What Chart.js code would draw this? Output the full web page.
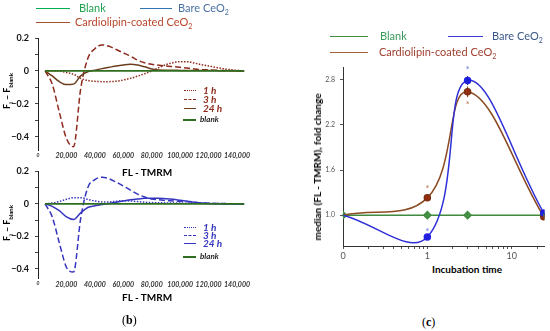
<!DOCTYPE html>
<html>
<head>
<meta charset="utf-8">
<script src="https://cdn.jsdelivr.net/npm/chart.js@4/dist/chart.umd.min.js"></script>
<style>
  body { margin: 0; background: #fff; }
  #page { position: relative; width: 550px; height: 331px; overflow: hidden; font-family: Lato, sans-serif; }
  canvas { position: absolute; }
  .t { position: absolute; white-space: nowrap; line-height: 1; }
  .ln { position: absolute; height: 0; }
  .rot { position: absolute; white-space: nowrap; transform: translate(-50%, -50%) rotate(-90deg); font-weight: bold; line-height: 1; }
</style>
</head>
<body>
<div id="page">
  <canvas id="topB" width="260" height="165" style="left:0px;top:0px"></canvas>
  <canvas id="botB" width="260" height="130" style="left:0px;top:160px"></canvas>
  <canvas id="panelC" width="280" height="262" style="left:270px;top:0px"></canvas>

  <!-- legend, panel b -->
  <div class="ln" style="left:36px;top:8px;width:34px;border-top:1.5px solid #00b050"></div>
  <div class="t" style="left:79px;top:2px;font-size:11px;color:#21a150">Blank</div>
  <div class="ln" style="left:140px;top:8px;width:32px;border-top:1.5px solid #2e75b6"></div>
  <div class="t" style="left:178px;top:2px;font-size:11px;color:#4a6fa5">Bare CeO<sub style="font-size:7px">2</sub></div>
  <div class="ln" style="left:36px;top:22px;width:34px;border-top:1.5px solid #a0522d"></div>
  <div class="t" style="left:75px;top:16px;font-size:11px;color:#b8452a">Cardiolipin-coated CeO<sub style="font-size:7px">2</sub></div>

  <!-- legend, panel c -->
  <div class="ln" style="left:330px;top:36px;width:38px;border-top:1.5px solid #3f8a3f"></div>
  <div class="t" style="left:380px;top:30px;font-size:11px;color:#3a9a5a">Blank</div>
  <div class="ln" style="left:448px;top:36px;width:35px;border-top:1.5px solid #3a3ad0"></div>
  <div class="t" style="left:492px;top:30px;font-size:11px;color:#3a5a8a">Bare CeO<sub style="font-size:7px">2</sub></div>
  <div class="ln" style="left:330px;top:52px;width:38px;border-top:1.5px solid #a0603a"></div>
  <div class="t" style="left:379px;top:46px;font-size:11px;color:#a04030">Cardiolipin-coated CeO<sub style="font-size:7px">2</sub></div>

  <!-- in-plot legends, panel b -->
  <div class="ln" style="left:184px;top:90px;width:12px;border-top:1.5px dotted #8e2b1c"></div>
  <div class="t" style="left:203px;top:85px;font-size:10px;font-weight:bold;font-style:italic;color:#8e2b1c">1 h</div>
  <div class="ln" style="left:184px;top:99px;width:12px;border-top:1.5px dashed #8e2b1c"></div>
  <div class="t" style="left:203px;top:94px;font-size:10px;font-weight:bold;font-style:italic;color:#8e2b1c">3 h</div>
  <div class="ln" style="left:184px;top:108px;width:12px;border-top:1.5px solid #6b3e1f"></div>
  <div class="t" style="left:203px;top:103px;font-size:10px;font-weight:bold;font-style:italic;color:#8e2b1c">24 h</div>
  <div class="ln" style="left:183px;top:119px;width:13px;border-top:2px solid #2f6e1f"></div>
  <div class="t" style="left:200px;top:115px;font-size:8px;font-weight:bold;font-style:italic;color:#222">blank</div>

  <div class="ln" style="left:184px;top:227px;width:12px;border-top:1.5px dotted #3535c0"></div>
  <div class="t" style="left:203px;top:222px;font-size:10px;font-weight:bold;font-style:italic;color:#3535c0">1 h</div>
  <div class="ln" style="left:184px;top:235px;width:12px;border-top:1.5px dashed #3535c0"></div>
  <div class="t" style="left:203px;top:230px;font-size:10px;font-weight:bold;font-style:italic;color:#3535c0">3 h</div>
  <div class="ln" style="left:184px;top:243px;width:12px;border-top:1.5px solid #3535c0"></div>
  <div class="t" style="left:203px;top:238px;font-size:10px;font-weight:bold;font-style:italic;color:#3535c0">24 h</div>
  <div class="ln" style="left:183px;top:256px;width:13px;border-top:2px solid #2f6e1f"></div>
  <div class="t" style="left:200px;top:252px;font-size:8px;font-weight:bold;font-style:italic;color:#222">blank</div>

  <!-- axis titles -->
  <div class="rot" style="left:8px;top:91px;font-size:9px">F<sub style="font-size:6px">i</sub> – F<sub style="font-size:6px">blank</sub></div>
  <div class="rot" style="left:8px;top:223px;font-size:9px">F<sub style="font-size:6px">i</sub> – F<sub style="font-size:6px">blank</sub></div>
  <div class="t" style="left:122px;top:167px;font-size:10px;font-weight:bold">FL - TMRM</div>
  <div class="t" style="left:122px;top:292px;font-size:10px;font-weight:bold">FL - TMRM</div>
  <div class="rot" style="left:317px;top:167px;font-size:10px">median (FL - TMRM), fold change</div>
  <div class="t" style="left:432px;top:264px;font-size:10px;font-weight:bold">Incubation time</div>

  <div class="t" style="left:122px;top:314px;font-size:12px;font-family:'Liberation Serif',serif">(<b>b</b>)</div>
  <div class="t" style="left:422px;top:316px;font-size:12px;font-family:'Liberation Serif',serif">(<b>c</b>)</div>
</div>

<script>
// panel (b): FL - TMRM grid and difference curves
const flGrid = [5000, 10000, 15000, 20000, 25000, 30000, 35000, 40000, 45000, 50000, 55000, 60000, 65000, 70000, 75000,
  80000, 85000, 90000, 95000, 100000, 105000, 110000, 115000, 120000, 125000, 130000, 135000, 140000, 145000];

const cardio1h = [0, 0, 0, -0.01, -0.02, -0.045, -0.058, -0.063, -0.065, -0.065, -0.062, -0.055, -0.045, -0.032, -0.017,
  0, 0.02, 0.038, 0.05, 0.056, 0.056, 0.048, 0.038, 0.03, 0.022, 0.014, 0.008, 0.003, 0];
const cardio3h = [0, -0.08, -0.25, -0.41, -0.46, -0.11, 0.075, 0.135, 0.158, 0.15, 0.13, 0.11, 0.09, 0.065, 0.05,
  0.04, 0.035, 0.03, 0.026, 0.022, 0.018, 0.012, 0.008, 0.006, 0.004, 0.003, 0.002, 0.001, 0];
const cardio24h = [0, -0.03, -0.065, -0.083, -0.08, -0.03, -0.005, 0.005, 0.014, 0.022, 0.03, 0.036, 0.04, 0.036, 0.025,
  0.012, 0.005, 0.004, 0.004, 0.003, 0.003, 0.003, 0.002, 0.002, 0.002, 0.001, 0.001, 0, 0];

const bare1h = [0, 0.005, 0.015, 0.028, 0.038, 0.038, 0.028, 0.018, 0.012, 0.012, 0.016, 0.02, 0.018, 0.014, 0.01,
  0.008, 0.007, 0.006, 0.005, 0.005, 0.004, 0.004, 0.003, 0.003, 0.002, 0.002, 0.001, 0.001, 0];
const bare3h = [0, -0.08, -0.24, -0.39, -0.42, -0.09, 0.1, 0.15, 0.164, 0.155, 0.134, 0.11, 0.085, 0.06, 0.042,
  0.03, 0.025, 0.02, 0.018, 0.016, 0.014, 0.01, 0.006, 0.004, 0.003, 0.002, 0.001, 0, 0];
const bare24h = [0, -0.015, -0.042, -0.08, -0.096, -0.055, -0.022, -0.012, -0.004, 0.003, 0.01, 0.018, 0.025, 0.03, 0.034,
  0.035, 0.034, 0.032, 0.028, 0.022, 0.016, 0.01, 0.005, 0.002, 0.001, 0, 0, 0, 0];
const blankDiff = flGrid.map(() => 0);

const flTicks = [0, 20000, 40000, 60000, 80000, 100000, 120000, 140000];
const diffTicks = [-0.4, -0.3, -0.2, -0.1, 0, 0.1, 0.2];
const diffLabels = [-0.4, -0.2, 0, 0.2];

// panel (c): median fold change vs incubation time (h)
const incubation = [0, 1, 3, 24];
const foldBlank = [1.0, 1.0, 1.0, 1.0];
const foldBare = [1.0, 0.71, 2.79, 1.03];
const foldCardio = [1.0, 1.23, 2.64, 0.98];
const errBare = [0, 0.02, 0.06, 0.02];
const errCardio = [0, 0.03, 0.07, 0.02];
const errBlank = [0.02, 0.03, 0.03, 0.02];
const starsBare = [[1, 0.8], [3, 2.95]];
const starsCardio = [[1, 1.37], [3, 2.49]];
const timeTicks = [0.1, 0.2, 0.3, 0.4, 0.5, 0.6, 0.7, 0.8, 0.9, 1, 2, 3, 4, 5, 6, 7, 8, 9, 10, 20];
const timeLabels = { 0.1: "0", 1: "1", 10: "10" };
const foldTicks = [1.0, 1.6, 2.2, 2.8];

const red = "#8e2b1c";
const brown24 = "#6b3e1f";
const blue = "#3535c0";
const green = "#2f6e1f";

function pts(ys) {
  return flGrid.map((x, i) => ({ x: x, y: ys[i] }));
}

function line(data, color, dash, width) {
  return {
    data: pts(data),
    borderColor: color,
    borderWidth: width || 1.5,
    borderDash: dash,
    pointRadius: 0,
    cubicInterpolationMode: "monotone",
    fill: false,
  };
}

function diffChart(id, sets, yMin, padTop, xHeight) {
  new Chart(document.getElementById(id), {
    type: "line",
    data: { datasets: sets },
    options: {
      responsive: false,
      animation: false,
      layout: { padding: { left: 0, top: padTop, right: 13, bottom: 0 } },
      plugins: { legend: { display: false }, tooltip: { enabled: false } },
      scales: {
        x: {
          type: "linear",
          min: 0,
          max: 147000,
          afterBuildTicks: (s) => { s.ticks = flTicks.map((v) => ({ value: v })); },
          afterFit: (s) => { s.height = xHeight; },
          grid: { display: false, drawTicks: false, tickLength: 0 },
          border: { display: false },
          ticks: {
            padding: 2,
            maxRotation: 0,
            color: "#333",
            font: (c) => ({ size: c.tick && c.tick.value === 0 ? 5 : 7, weight: "bold", style: "italic", family: "Lato" }),
            callback: (v) => v.toLocaleString("en-US"),
          },
        },
        y: {
          min: yMin,
          max: 0.2,
          afterBuildTicks: (s) => { s.ticks = diffTicks.map((v) => ({ value: v })); },
          afterFit: (s) => { s.width = 38; },
          grid: { drawOnChartArea: false, drawTicks: true, tickLength: 3, color: "#444" },
          border: { display: true, color: "#222", width: 1 },
          ticks: {
            padding: 6,
            color: "#111",
            font: { size: 9, weight: "bold", family: "Lato" },
            callback: (v) => {
              const r = Math.round(v * 10) / 10;
              if (!diffLabels.includes(r)) return "";
              return r === 0 ? "0" : (r < 0 ? "\u2212" + Math.abs(r) : String(r));
            },
          },
        },
      },
    },
  });
}

diffChart("topB", [
  line(blankDiff, green, [], 1.8),
  line(cardio24h, brown24, []),
  line(cardio1h, red, [1.5, 1.5]),
  line(cardio3h, red, [6, 3]),
], -0.48, 38, 15);

diffChart("botB", [
  line(blankDiff, green, [], 1.8),
  line(bare24h, blue, []),
  line(bare1h, blue, [1.5, 1.5]),
  line(bare3h, blue, [6, 3]),
], -0.46, 9, 11);

// panel (c)
const timeX = incubation.map((t) => (t === 0 ? 0.1 : t)); // "0" sits at the left end of the log axis

function series(ys) {
  return timeX.map((x, i) => ({ x: x, y: ys[i] }));
}

const marks = {
  id: "marks",
  afterDatasetsDraw(chart) {
    const { ctx } = chart;
    const x = chart.scales.x;
    const y = chart.scales.y;
    ctx.save();
    ctx.lineWidth = 1;
    [[foldBare, errBare, "#2020c0"], [foldCardio, errCardio, "#8a2a10"], [foldBlank, errBlank, "#3f8a3f"]].forEach(([vals, errs, c]) => {
      ctx.strokeStyle = c;
      vals.forEach((v, i) => {
        if (!errs[i]) return;
        const px = x.getPixelForValue(timeX[i]);
        ctx.beginPath();
        ctx.moveTo(px, y.getPixelForValue(v - errs[i]));
        ctx.lineTo(px, y.getPixelForValue(v + errs[i]));
        ctx.stroke();
      });
    });
    ctx.font = "bold 9px Lato";
    ctx.textAlign = "center";
    ctx.textBaseline = "middle";
    [[starsBare, "#7b8fe0"], [starsCardio, "#c08a6a"]].forEach(([list, c]) => {
      ctx.fillStyle = c;
      list.forEach(([t, v]) => {
        ctx.fillText("*", x.getPixelForValue(t), y.getPixelForValue(v) + 2);
      });
    });
    ctx.restore();
  },
};

new Chart(document.getElementById("panelC"), {
  type: "line",
  data: {
    datasets: [
      {
        data: series(foldBare),
        borderColor: "#3030d8",
        borderWidth: 1.5,
        tension: 0.4,
        capBezierPoints: false,
        pointRadius: [0, 3, 3, 3],
        pointBackgroundColor: "#2020e0",
        pointBorderColor: "#2020e0",
      },
      {
        data: series(foldCardio),
        borderColor: "#8b4a22",
        borderWidth: 1.5,
        tension: 0.4,
        capBezierPoints: false,
        pointRadius: [0, 3, 3, 3],
        pointBackgroundColor: "#a03010",
        pointBorderColor: "#7a3010",
      },
      {
        data: series(foldBlank),
        borderColor: "#3f8a3f",
        borderWidth: 1.5,
        tension: 0,
        pointStyle: "rectRot",
        pointRadius: 3.5,
        pointBackgroundColor: "#4a9a4a",
        pointBorderColor: "#3f8a3f",
      },
    ],
  },
  options: {
    responsive: false,
    animation: false,
    layout: { padding: { left: 0, top: 67, right: 4, bottom: 2 } },
    plugins: { legend: { display: false }, tooltip: { enabled: false } },
    scales: {
      x: {
        type: "logarithmic",
        min: 0.1,
        max: 24.5,
        afterBuildTicks: (s) => { s.ticks = timeTicks.map((v) => ({ value: v })); },
        afterFit: (s) => { s.height = 14; },
        grid: { drawOnChartArea: false, drawTicks: true, tickLength: 3, color: "#555" },
        border: { display: true, color: "#333", width: 1 },
        ticks: {
          padding: 2,
          maxRotation: 0,
          autoSkip: false,
          color: "#555",
          font: { size: 9, family: "Lato" },
          callback: (v) => timeLabels[v] || "",
        },
      },
      y: {
        min: 0.59,
        max: 2.97,
        afterBuildTicks: (s) => { s.ticks = foldTicks.map((v) => ({ value: v })); },
        afterFit: (s) => { s.width = 73; },
        grid: { drawOnChartArea: false, drawTicks: true, tickLength: 3, color: "#555" },
        border: { display: true, color: "#333", width: 1, dash: [1, 1] },
        ticks: {
          padding: 5,
          color: "#555",
          font: { size: 7, family: "Lato" },
          callback: (v) => v.toFixed(1),
        },
      },
    },
  },
  plugins: [marks],
});
</script>
</body>
</html>
